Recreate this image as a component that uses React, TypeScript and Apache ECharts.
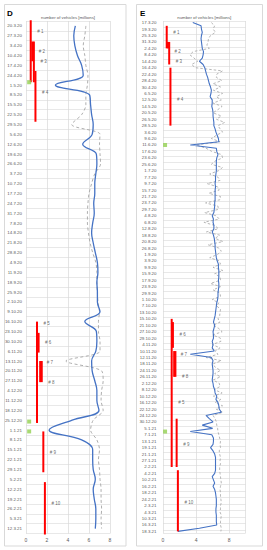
import React, { useEffect, useRef } from 'react';
import * as echarts from 'echarts';

// ---------- Panel D (weekly) ----------
const dCats = ['20.3.20','27.3.20','3.4.20','10.4.20','17.4.20','24.4.20','1.5.20','8.5.20','15.5.20','22.5.20','29.5.20','5.6.20','12.6.20','19.6.20','26.6.20','3.7.20','10.7.20','17.7.20','24.7.20','31.7.20','7.8.20','14.8.20','21.8.20','28.8.20','4.9.20','11.9.20','18.9.20','25.9.20','2.10.20','9.10.20','16.10.20','23.10.20','30.10.20','6.11.20','13.11.20','20.11.20','27.11.20','4.12.20','11.12.20','18.12.20','25.12.20','1.1.21','8.1.21','15.1.21','22.1.21','29.1.21','5.2.21','12.2.21','19.2.21','26.2.21','5.3.21','12.3.21'];
const dBlue = [4.7,4.55,4.65,4.9,5.3,5.45,2.8,6.05,6.15,6.25,6.4,6.3,5.4,6.7,6.75,6.65,6.55,6.55,6.45,6.5,6.35,6.25,6.4,6.6,6.8,6.85,6.75,6.8,6.8,7.05,5.6,6.7,6.75,6.65,6.25,6.3,6.55,6.75,6.75,6.95,4.4,2.2,5.3,6.35,6.35,6.4,6.6,6.4,6.5,6.65,6.65,6.6];
const dGrey = [5.7,5.6,5.45,5.6,5.7,5.9,5.85,5.7,5.7,5.3,4.35,7.05,7.0,7.05,7.1,6.55,6.25,6.0,5.9,5.85,5.85,5.95,6.1,6.35,6.65,6.75,6.75,6.8,6.85,7.0,6.9,6.9,7.05,7.05,3.8,7.2,7.35,7.2,7.15,7.35,6.4,6.15,6.75,7.0,6.9,7.0,7.05,7.15,7.15,7.2,7.15,7.2];
const dLockStart = ['16.3.20','31.3.20','31.3.20','21.4.20','16.10.20','24.10.20','13.11.20','13.11.20','2.1.21','7.2.21'];
const dLockEnd = ['29.4.20','14.4.20','29.4.20','27.5.20','27.12.20','7.11.20','28.11.20','28.11.20','31.1.21','20.3.21'];
const dLabelAt = ['24.3.20','7.4.20','14.4.20','6.5.20','17.10.20','31.10.20','14.11.20','28.11.20','17.1.21','22.2.21'];
const dHolidays = ['29.4.20','26.12.20','2.1.21'];

// ---------- Panel E (Tue/Wed/Thu) ----------
const eCats = ['17.3.20','18.3.20','19.3.20','24.3.20','25.3.20','26.3.20','31.3.20','1.4.20','2.4.20','7.4.20','8.4.20','9.4.20','14.4.20','15.4.20','16.4.20','21.4.20','22.4.20','23.4.20','28.4.20','29.4.20','30.4.20','5.5.20','6.5.20','7.5.20','12.5.20','13.5.20','14.5.20','19.5.20','20.5.20','21.5.20','26.5.20','27.5.20','28.5.20','2.6.20','3.6.20','4.6.20','9.6.20','10.6.20','11.6.20','16.6.20','17.6.20','18.6.20','23.6.20','24.6.20','25.6.20','30.6.20','1.7.20','2.7.20','7.7.20','8.7.20','9.7.20','14.7.20','15.7.20','16.7.20','21.7.20','22.7.20','23.7.20','28.7.20','29.7.20','30.7.20','4.8.20','5.8.20','6.8.20','11.8.20','12.8.20','13.8.20','18.8.20','19.8.20','20.8.20','25.8.20','26.8.20','27.8.20','1.9.20','2.9.20','3.9.20','8.9.20','9.9.20','10.9.20','15.9.20','16.9.20','17.9.20','22.9.20','23.9.20','24.9.20','29.9.20','30.9.20','1.10.20','6.10.20','7.10.20','8.10.20','13.10.20','14.10.20','15.10.20','20.10.20','21.10.20','22.10.20','27.10.20','28.10.20','29.10.20','3.11.20','4.11.20','5.11.20','10.11.20','11.11.20','12.11.20','17.11.20','18.11.20','19.11.20','24.11.20','25.11.20','26.11.20','1.12.20','2.12.20','3.12.20','8.12.20','9.12.20','10.12.20','15.12.20','16.12.20','17.12.20','22.12.20','23.12.20','24.12.20','29.12.20','30.12.20','31.12.20','5.1.21','6.1.21','7.1.21','12.1.21','13.1.21','14.1.21','19.1.21','20.1.21','21.1.21','26.1.21','27.1.21','28.1.21','2.2.21','3.2.21','4.2.21','9.2.21','10.2.21','11.2.21','16.2.21','17.2.21','18.2.21','23.2.21','24.2.21','25.2.21','2.3.21','3.3.21','4.3.21','9.3.21','10.3.21','11.3.21','16.3.21','17.3.21','18.3.21'];
const eBlue = [
  3.6,4.6,4.65, 4.75,4.65,4.6, 4.65,4.7,4.75, 4.9,4.85,4.75, 4.4,4.85,5.05, 5.15,5.25,5.4,
  5.5,5.6,5.75, 5.85,5.8,5.7, 5.95,5.95,5.9, 6.0,6.05,6.05, 6.1,6.15,6.15, 6.3,6.4,6.55,
  6.7,6.75,3.3, 6.45,6.5,6.65, 6.5,6.45,6.45, 6.45,6.45,6.4, 6.35,6.35,6.3, 6.35,6.3,6.3,
  6.3,6.3,6.25, 6.25,6.2,6.15, 5.95,6.1,6.05, 6.15,6.15,5.95, 6.1,6.2,6.25, 6.3,6.3,6.35,
  6.4,6.45,6.55, 6.7,6.7,6.75, 6.75,6.75,6.7, 6.75,6.75,6.7, 6.65,6.65,6.6, 6.5,6.45,6.4,
  6.35,6.3,6.2, 6.1,6.25,6.15, 6.05,6.1,6.1, 5.95,6.05,5.95, 6.2,3.3,5.85, 6.05,5.95,6.0,
  6.05,6.05,6.0, 5.95,6.05,6.1, 6.25,6.3,6.5, 6.4,6.65,6.75, 6.8,7.05,5.2, 5.6,6.05,4.75,
  6.0,3.3,5.9, 6.1,6.1,6.05, 5.75,6.05,6.25, 6.35,6.35,6.35, 6.35,6.35,6.25, 5.95,6.1,6.25,
  6.05,6.25,6.35, 6.4,6.45,6.45, 6.45,6.4,6.4, 6.45,6.45,6.45, 6.5,4.4,1.8
];
const eGrey = [
  5.85,6.25,6.05, 6.35,5.75,5.5, 5.45,5.3,5.6, 3.65,3.25,3.75, 4.2,3.45,3.9, 7.2,6.5,6.45,
  7.1,6.05,6.95, 6.1,7.2,6.45, 7.05,6.05,7.15, 6.65,6.05,7.05, 6.45,7.45,6.65, 6.9,7.2,6.45,
  5.85,6.9,4.0, 5.2,5.9,7.1, 7.2,6.3,5.85, 7.2,6.7,5.65, 6.65,6.9,5.35, 6.6,6.8,5.55,
  6.95,6.9,5.15, 6.65,6.7,5.05, 6.45,6.8,4.95, 6.25,6.7,5.25, 6.85,6.3,7.25, 5.45,6.75,7.05,
  6.6,5.65,6.8, 6.95,6.05,7.25, 6.25,6.9,6.95, 5.75,6.95,6.05, 6.9,6.95,5.95, 6.75,6.5,6.95,
  6.9,6.85,6.65, 6.9,6.05,6.75, 7.15,6.0,6.95, 7.0,5.95,6.9, 6.3,6.65,5.2, 7.05,6.05,6.3,
  6.95,6.25,6.95, 6.05,6.8,6.9, 6.2,7.15,6.1, 7.0,6.3,7.2, 6.4,7.25,6.05, 6.3,6.45,6.5,
  6.6,6.65,6.75, 6.85,6.95,6.9, 6.95,6.8,6.85, 6.95,6.9,6.95, 6.85,6.85,6.9, 6.95,7.0,7.05,
  6.95,6.9,6.95, 6.95,7.0,7.05, 6.95,6.95,6.9, 7.05,7.0,6.95, 6.95,7.05,7.0
];
const eLockStart = ['18.3.20','31.3.20','31.3.20','16.4.20','15.10.20','20.10.20','10.11.20','10.11.20','29.12.20','3.2.21'];
const eLockEnd = ['2.4.20','2.4.20','15.4.20','28.5.20','2.2.21','5.11.20','26.11.20','26.11.20','2.2.21','18.3.21'];
const eLabelAt = ['24.3.20','7.4.20','14.4.20','12.5.20','16.12.20','28.10.20','11.11.20','26.11.20','14.1.21','25.2.21'];
const eHolidays = ['11.6.20','6.1.21'];

// ---------- shared ----------
const lockNames = ['# 1','# 2','# 3','# 4','# 5','# 6','# 7','# 8','# 9','# 10'];
const lockX = [0.45, 0.6, 0.75, 0.9, 1.05, 1.2, 1.35, 1.5, 1.65, 1.8];
const holidayXD = 0.3;
const holidayXE = 0.25;
const axisTitle = 'number of vehicles [millions]';

const FONT = 'Liberation Sans, Arial, sans-serif';
const BLUE = '#4472c4';
const GREY = '#a5a5a5';
const RED = '#ff0000';
const GREEN = '#92d050';
const GRID = '#d9d9d9';
const LABEL = '#595959';

const parseDate = (s: string) => {
  const [d, m, y] = s.split('.').map(Number);
  return Date.UTC(2000 + y, m - 1, d);
};
const D0 = parseDate(dCats[0]);
const dayOf = (s: string) => Math.round((parseDate(s) - D0) / 86400000);

export default function App() {
  const ref = useRef<HTMLDivElement>(null);
  useEffect(() => {
    if (!ref.current) return;
    const chart = echarts.init(ref.current, undefined, { renderer: 'svg' });
    const series: any[] = [];

    // Panel D
    series.push({
      type: 'line', xAxisIndex: 0, yAxisIndex: 0, data: dGrey.map((v, i) => [v, i]),
      smooth: 0.3, showSymbol: false, lineStyle: { color: GREY, width: 0.9, type: [3, 2.5] }, z: 3,
    });
    series.push({
      type: 'line', xAxisIndex: 0, yAxisIndex: 0, data: dBlue.map((v, i) => [v, i]),
      smooth: 0.4, showSymbol: false, lineStyle: { color: BLUE, width: 1.3 }, z: 4,
    });
    lockX.forEach((x, i) => {
      series.push({
        type: 'line', xAxisIndex: 0, yAxisIndex: 1, clip: true, showSymbol: false,
        data: [[x, dayOf(dLockStart[i])], [x, dayOf(dLockEnd[i])]],
        lineStyle: { color: RED, width: 2, cap: 'butt' }, z: 5,
      });
    });
    series.push({
      type: 'scatter', xAxisIndex: 0, yAxisIndex: 1, symbolSize: 1,
      itemStyle: { color: 'rgba(0,0,0,0)' },
      data: lockX.map((x, i) => ({ value: [x, dayOf(dLabelAt[i])], name: lockNames[i] })),
      label: { show: true, position: 'right', distance: 6, formatter: '{b}', fontSize: 4.5, color: '#404040', fontFamily: FONT },
      z: 6,
    });
    series.push({
      type: 'scatter', xAxisIndex: 0, yAxisIndex: 1, symbol: 'rect', symbolSize: 4,
      itemStyle: { color: GREEN }, data: dHolidays.map((s) => [holidayXD, dayOf(s)]), z: 6,
    });

    // Panel E
    series.push({
      type: 'line', xAxisIndex: 1, yAxisIndex: 2, data: eGrey.map((v, i) => [v, i]),
      showSymbol: false, lineStyle: { color: GREY, width: 0.8, type: [2.5, 2] }, z: 3,
    });
    series.push({
      type: 'line', xAxisIndex: 1, yAxisIndex: 2, data: eBlue.map((v, i) => [v, i]),
      showSymbol: false, lineStyle: { color: BLUE, width: 1.1 }, z: 4,
    });
    lockX.forEach((x, i) => {
      series.push({
        type: 'line', xAxisIndex: 1, yAxisIndex: 2, showSymbol: false,
        data: [[x, eCats.indexOf(eLockStart[i])], [x, eCats.indexOf(eLockEnd[i])]],
        lineStyle: { color: RED, width: 2, cap: 'butt' }, z: 5,
      });
    });
    series.push({
      type: 'scatter', xAxisIndex: 1, yAxisIndex: 2, symbolSize: 1,
      itemStyle: { color: 'rgba(0,0,0,0)' },
      data: lockX.map((x, i) => ({ value: [x, eCats.indexOf(eLabelAt[i])], name: lockNames[i] })),
      label: { show: true, position: 'right', distance: 6, formatter: '{b}', fontSize: 4.5, color: '#404040', fontFamily: FONT },
      z: 6,
    });
    series.push({
      type: 'scatter', xAxisIndex: 1, yAxisIndex: 2, symbol: 'rect', symbolSize: 4,
      itemStyle: { color: GREEN }, data: eHolidays.map((s) => [holidayXE, eCats.indexOf(s)]), z: 6,
    });

    const valueAxisCommon = {
      type: 'value',
      axisLine: { show: false },
      axisTick: { show: false },
      splitLine: { show: true, lineStyle: { color: GRID, width: 0.7 } },
      axisLabel: { fontSize: 5, color: LABEL, margin: 4, fontFamily: FONT },
    };
    const catAxisCommon = {
      type: 'category',
      inverse: true,
      boundaryGap: true,
      axisLine: { show: false },
      axisTick: { show: false },
    };

    chart.setOption({
      animation: false,
      textStyle: { fontFamily: FONT },
      grid: [
        { left: 26, top: 21, width: 84, height: 512.5, containLabel: false },
        { left: 163, top: 21, width: 82.7, height: 512, containLabel: false },
      ],
      xAxis: [
        { ...valueAxisCommon, gridIndex: 0, min: 0, max: 8, interval: 2 },
        { ...valueAxisCommon, gridIndex: 1, min: 0, max: 10, interval: 4,
          axisLabel: { ...valueAxisCommon.axisLabel, showMaxLabel: false } },
      ],
      yAxis: [
        { ...catAxisCommon, gridIndex: 0, data: dCats,
          axisLabel: { interval: 0, fontSize: 4.4, color: LABEL, margin: 4, fontFamily: FONT },
          splitLine: { show: true, interval: 0, lineStyle: { color: GRID, width: 0.6 } } },
        { type: 'value', gridIndex: 0, min: -3.5, max: 360.5, inverse: true, show: false },
        { ...catAxisCommon, gridIndex: 1, data: eCats,
          axisLabel: { interval: 1, fontSize: 4.4, color: LABEL, margin: 6.5, fontFamily: FONT },
          splitLine: { show: true, interval: 1, lineStyle: { color: GRID, width: 0.6 } } },
      ],
      graphic: [
        { type: 'rect', shape: { x: 4.5, y: 4.5, width: 121.5, height: 541.5 },
          style: { fill: 'none', stroke: GRID, lineWidth: 1 }, silent: true },
        { type: 'rect', shape: { x: 136.5, y: 4.5, width: 126, height: 541.5 },
          style: { fill: 'none', stroke: GRID, lineWidth: 1 }, silent: true },
        { type: 'text', x: 7, y: 9, style: { text: 'D', fontSize: 8, fontWeight: 'bold', fill: '#000', fontFamily: FONT, textVerticalAlign: 'top' } },
        { type: 'text', x: 140, y: 9, style: { text: 'E', fontSize: 8, fontWeight: 'bold', fill: '#000', fontFamily: FONT, textVerticalAlign: 'top' } },
        { type: 'text', x: 68, y: 17, style: { text: axisTitle, fontSize: 4.3, fill: LABEL, fontFamily: FONT, textAlign: 'center', textVerticalAlign: 'middle' } },
        { type: 'text', x: 204.3, y: 17, style: { text: axisTitle, fontSize: 4.3, fill: LABEL, fontFamily: FONT, textAlign: 'center', textVerticalAlign: 'middle' } },
      ],
      series,
    });
    return () => chart.dispose();
  }, []);

  return (
    <div
      ref={ref}
      style={{ position: 'fixed', left: 0, top: 0, width: 267, height: 550, background: '#fff' }}
    />
  );
}
